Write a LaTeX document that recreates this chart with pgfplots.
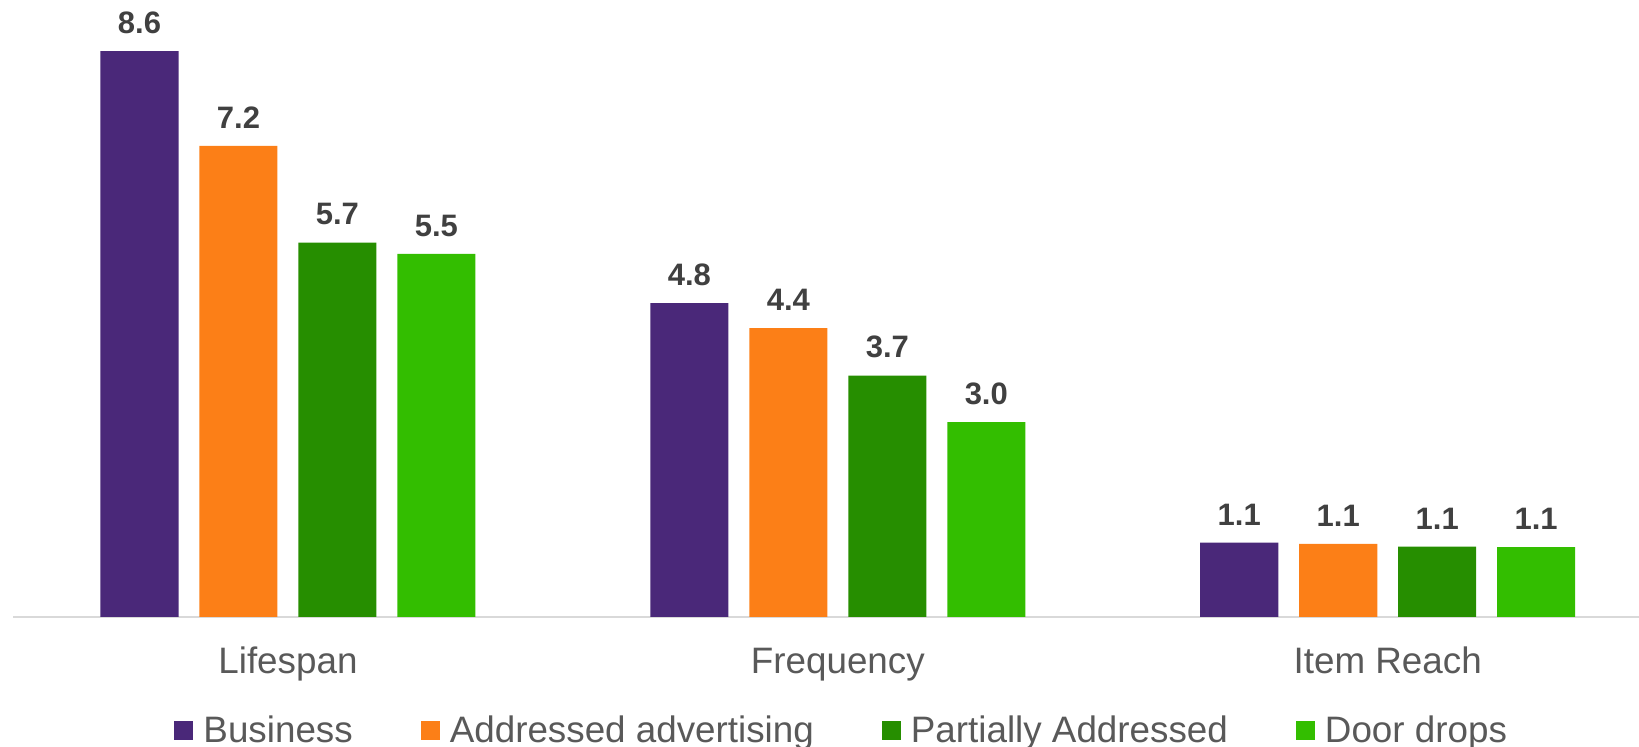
\documentclass[border=0pt]{standalone}
\usepackage{pgfplots}
\pgfplotsset{compat=1.18}
\usepackage{fontspec}
\setmainfont{Liberation Sans}
\definecolor{cPurple}{HTML}{4A2879}
\definecolor{cOrange}{HTML}{FC7F17}
\definecolor{cDkGreen}{HTML}{268E00}
\definecolor{cLtGreen}{HTML}{33BE00}
\definecolor{cLabel}{HTML}{404040}
\definecolor{cText}{HTML}{595959}
\definecolor{cAxis}{HTML}{D9D9D9}
\begin{document}
\begin{tikzpicture}
\path[use as bounding box] (-6.5pt,-65pt) rectangle (813pt,308.5pt);
\begin{axis}[
  scale only axis,
  width=813pt, height=308.5pt,
  clip=false,
  xmin=-0.5, xmax=2.457,
  ymin=0, ymax=9.377,
  axis x line*=bottom,
  axis y line=none,
  axis line style={draw=cAxis, line width=1pt, -},
  xtick={0,1,2},
  xticklabels={Lifespan,Frequency,Item Reach},
  major tick length=0pt,
  xticklabel style={anchor=base, yshift=-28.5pt, font=\fontsize{18.4}{22}\selectfont, text=cText},
  ytick=\empty,
  ybar,
  bar width=0.142,
  nodes near coords={\pgfmathprintnumber[fixed,fixed zerofill,precision=1,assume math mode=true]{\pgfplotspointmeta}},
  every node near coord/.append style={font=\fontsize{15.5}{18}\selectfont\bfseries, text=cLabel, yshift=5.2pt},
  legend columns=4,
  legend style={draw=none, fill=none, at={(0.5103,-0.184)}, anchor=center,
    font=\fontsize{18.4}{22}\selectfont, text=cText,
    /tikz/every odd column/.append style={column sep=3pt},
    /tikz/every even column/.append style={column sep=32pt}},
  legend image code/.code={\fill[#1] (0pt,-4.75pt) rectangle (9.5pt,4.75pt);},
]
\addplot[draw=none, fill=cPurple, bar shift=-0.27] coordinates {(0,8.6) (1,4.77) (2,1.13)};
\addplot[draw=none, fill=cOrange, bar shift=-0.09] coordinates {(0,7.16) (1,4.39) (2,1.11)};
\addplot[draw=none, fill=cDkGreen, bar shift=0.09] coordinates {(0,5.69) (1,3.67) (2,1.07)};
\addplot[draw=none, fill=cLtGreen, bar shift=0.27] coordinates {(0,5.52) (1,2.96) (2,1.06)};
\legend{Business, Addressed advertising, Partially Addressed, Door drops}
\end{axis}
\end{tikzpicture}
\end{document}
